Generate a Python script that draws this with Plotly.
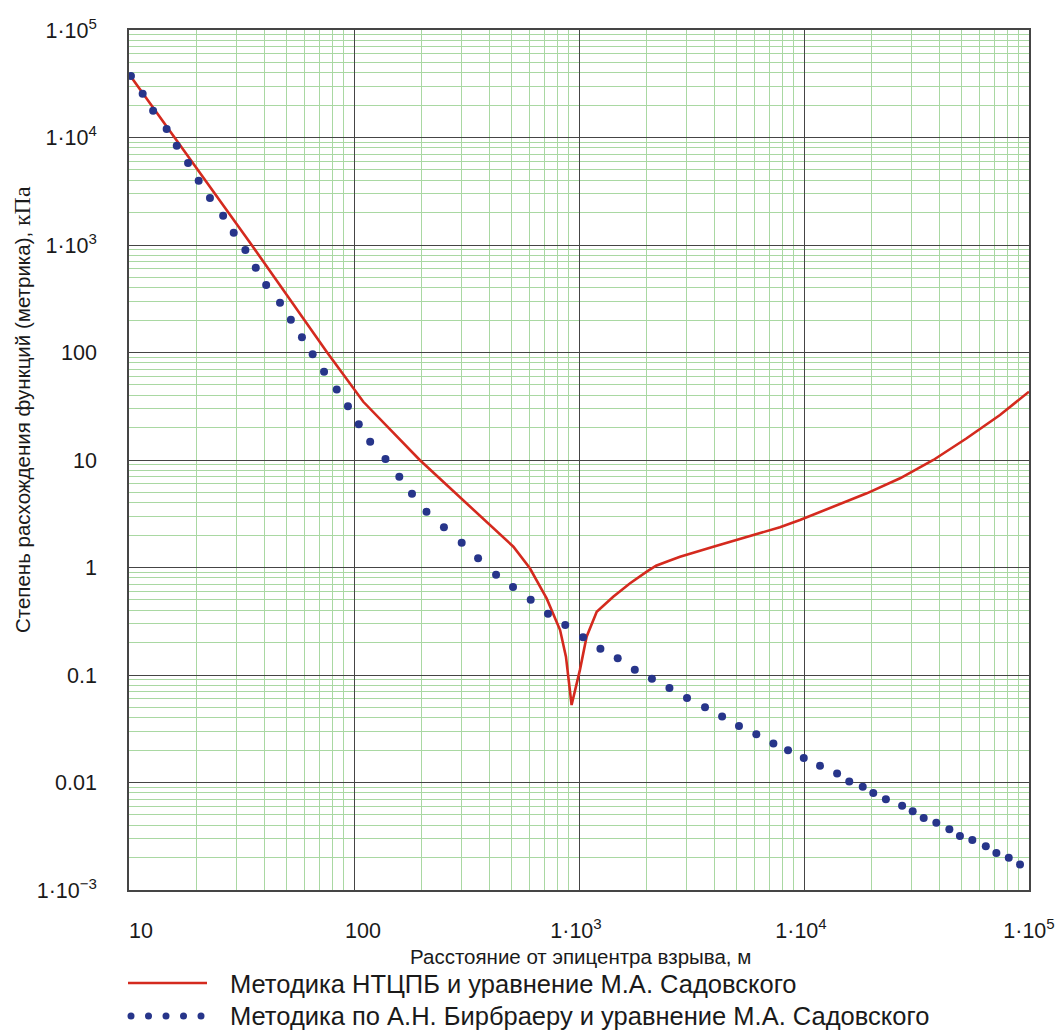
import plotly.graph_objects as go

# ---- data ----
red_x = [10, 15.9, 35.1, 76.0, 110, 196, 306, 363, 511, 605, 718, 824, 875, 927,
         1009, 1081, 1199, 1419, 1687, 2000, 2200, 2500, 2812, 3954, 5559, 7816, 9594,
         13490, 19010, 26730, 37580, 52840, 74300, 100000]
red_y = [38900, 10000, 1000, 100, 34.8, 10.0, 4.25, 3.02, 1.56, 0.984, 0.516, 0.262,
         0.148, 0.0526, 0.111, 0.227, 0.388, 0.535, 0.713, 0.914, 1.04, 1.15, 1.259,
         1.563, 1.910, 2.366, 2.767, 3.681, 4.898, 6.761, 10.0, 15.92, 26.24, 43.2]

blue_x = [10.2, 11.5, 12.8, 14.7, 16.3, 18.3, 20.4, 22.9, 26.2, 29.2, 32.9, 36.6, 40.7,
          46.9, 52.4, 58.7, 65.5, 73.6, 83.8, 94.0, 105, 118, 138, 159, 181, 210, 251,
          301, 356, 428, 509, 610, 728, 869, 1042, 1245, 1486, 1770, 2109, 2523, 3020,
          3631, 4325, 5140, 6138, 7311, 8492, 9977, 11780, 14030, 15890, 18240, 20320,
          23120, 27290, 30410, 34040, 38730, 44260, 49320, 55980, 64270, 71610, 81280,
          91200]
blue_y = [37300, 25500, 17700, 12000, 8400, 5790, 3960, 2740, 1870, 1300, 897, 615, 425,
          290, 202, 139, 96.2, 66.2, 45.3, 31.6, 21.5, 14.8, 10.2, 7.0, 4.86, 3.30, 2.37,
          1.70, 1.22, 0.857, 0.659, 0.502, 0.372, 0.292, 0.224, 0.175, 0.143, 0.112,
          0.0925, 0.0757, 0.0611, 0.0501, 0.0411, 0.0336, 0.0281, 0.0231, 0.0200, 0.0169,
          0.0143, 0.0121, 0.0102, 0.00914, 0.00798, 0.00698, 0.00608, 0.00540, 0.00468,
          0.00423, 0.00367, 0.00318, 0.00292, 0.00255, 0.00221, 0.00200, 0.00173]

x_tickvals = [10, 100, 1e3, 1e4, 1e5]
x_ticktext = ["&nbsp;&nbsp;&nbsp;&nbsp;10", "&nbsp;&nbsp;&nbsp;100",
              "1·10<sup>3</sup>&nbsp;", "1·10<sup>4</sup>&nbsp;",
              "1·10<sup>5</sup>"]
y_tickvals = [1e-3, 1e-2, 0.1, 1, 10, 100, 1e3, 1e4, 1e5]
y_ticktext = ["1·10<sup>−3</sup>", "0.01", "0.1", "1", "10", "100",
              "1·10<sup>3</sup>", "1·10<sup>4</sup>", "1·10<sup>5</sup>"]

legend_labels = ["Методика НТЦПБ и уравнение М.А. Садовского",
                 "Методика по А.Н. Бирбраеру и уравнение М.А. Садовского"]
x_title = "Расстояние от эпицентра взрыва, м"
y_title = ("Степень расхождения функций (метрика), "
           "<span style='font-family:Liberation Serif, Times New Roman, serif;font-size:24px'>кПа</span>")

RED = "#d42a1e"
BLUE = "#27358a"
MAJOR = "#454545"
MINOR = "#a9d8a2"
FONT = "Liberation Sans, Arial, sans-serif"

x_minor = [m * 10 ** e for e in range(1, 5) for m in range(2, 10)]
y_minor = [m * 10 ** e for e in range(-3, 5) for m in range(2, 10)]

fig = go.Figure()
fig.add_trace(go.Scatter(x=red_x, y=red_y, mode="lines",
                         line=dict(color=RED, width=2.6), showlegend=False))
fig.add_trace(go.Scatter(x=blue_x, y=blue_y, mode="markers",
                         marker=dict(color=BLUE, size=8), cliponaxis=False,
                         showlegend=False))

axis_common = dict(
    type="log", showgrid=True, gridcolor=MAJOR, gridwidth=1.3,
    showline=True, linecolor=MAJOR, linewidth=1.6, mirror=True,
    ticks="", tickfont=dict(family=FONT, size=21.5, color="#1a1a1a"),
)
fig.update_xaxes(**axis_common, range=[1, 5], tickvals=x_tickvals, ticktext=x_ticktext,
                 ticklabelstandoff=20,
                 minor=dict(tickvals=x_minor, showgrid=True, gridcolor=MINOR, gridwidth=1))
fig.update_yaxes(**axis_common, range=[-3, 5], tickvals=y_tickvals, ticktext=y_ticktext,
                 ticklabelstandoff=26,
                 minor=dict(tickvals=y_minor, showgrid=True, gridcolor=MINOR, gridwidth=1))

# plot area in pixels: x 129..1029, y 30..890
L, R, T, B = 129, 1029, 30, 890
W, H = R - L, B - T


def px(xp):
    return (xp - L) / W


def py(yp):
    return (B - yp) / H


annotations = [
    dict(text=x_title, x=px(580), y=py(956), xref="paper", yref="paper",
         showarrow=False, font=dict(family=FONT, size=20.5, color="#1a1a1a"),
         xanchor="center", yanchor="middle"),
    dict(text=y_title, x=px(22), y=py(410), xref="paper", yref="paper",
         showarrow=False, textangle=-90, font=dict(family=FONT, size=20.5, color="#1a1a1a"),
         xanchor="center", yanchor="middle"),
    dict(text=legend_labels[0], x=px(228), y=py(984), xref="paper", yref="paper",
         showarrow=False, font=dict(family=FONT, size=25.5, color="#1a1a1a"),
         xanchor="left", yanchor="middle"),
    dict(text=legend_labels[1], x=px(228), y=py(1016), xref="paper", yref="paper",
         showarrow=False, font=dict(family=FONT, size=25.5, color="#1a1a1a"),
         xanchor="left", yanchor="middle"),
]

shapes = [dict(type="line", xref="paper", yref="paper", x0=px(128), x1=px(207),
               y0=py(983), y1=py(983), line=dict(color=RED, width=2.6))]
for cx in [131, 148.5, 166, 183.5, 201]:
    shapes.append(dict(type="circle", xref="paper", yref="paper",
                       x0=px(cx - 3.5), x1=px(cx + 3.5), y0=py(1016 - 3.5), y1=py(1016 + 3.5),
                       fillcolor=BLUE, line=dict(width=0)))

fig.update_layout(
    width=1059, height=1032,
    margin=dict(l=L, r=1059 - R, t=T, b=1032 - B, autoexpand=False),
    paper_bgcolor="white", plot_bgcolor="white",
    showlegend=False,
    annotations=annotations, shapes=shapes,
)

fig.write_html("out.html")
